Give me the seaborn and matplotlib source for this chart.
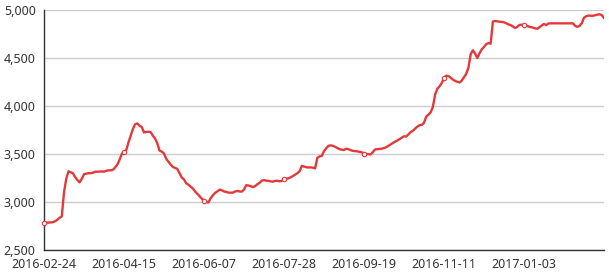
import matplotlib
matplotlib.use("Agg")
import matplotlib.pyplot as plt
import matplotlib.ticker as mticker
import numpy as np
import pandas as pd
import seaborn as sns

# Daily values (trading-day index 0..252)
values = [
    2785, 2785, 2785, 2787, 2790, 2800, 2815, 2835, 2850, 3100,
    3240, 3320, 3310, 3300, 3260, 3230, 3205, 3240, 3290, 3295,
    3300, 3300, 3305, 3315, 3316, 3316, 3318, 3316, 3325, 3330,
    3330, 3335, 3360, 3390, 3440, 3500, 3525, 3540, 3620, 3690,
    3760, 3810, 3818, 3795, 3780, 3725, 3730, 3732, 3728, 3690,
    3660, 3610, 3535, 3525, 3505, 3450, 3420, 3390, 3365, 3355,
    3345, 3300, 3255, 3235, 3195, 3180, 3160, 3140, 3110, 3085,
    3060, 3035, 3012, 3000, 2995, 3040, 3070, 3095, 3110, 3128,
    3122, 3110, 3105, 3098, 3097, 3098, 3110, 3115, 3110, 3108,
    3130, 3175, 3172, 3165, 3155, 3165, 3185, 3200, 3222, 3228,
    3222, 3220, 3215, 3212, 3220, 3222, 3215, 3220, 3238, 3242,
    3247, 3257, 3270, 3285, 3300, 3320, 3375, 3370, 3362, 3360,
    3361, 3358, 3350, 3460, 3475, 3480, 3530, 3560, 3585, 3590,
    3585, 3575, 3562, 3550, 3545, 3542, 3555, 3550, 3540, 3532,
    3530, 3528, 3522, 3518, 3505, 3500, 3498, 3496, 3520, 3548,
    3550, 3552, 3555, 3562, 3570, 3585, 3600, 3615, 3628, 3642,
    3655, 3670, 3685, 3682, 3705, 3728, 3742, 3765, 3785, 3800,
    3803, 3825, 3890, 3910, 3935, 3990, 4120, 4180, 4205, 4240,
    4290, 4315, 4312, 4295, 4275, 4262, 4252, 4245, 4265, 4300,
    4335, 4400, 4540, 4580, 4545, 4500, 4550, 4590, 4615, 4645,
    4655, 4650, 4880, 4885, 4882, 4878, 4875, 4872, 4862, 4850,
    4842, 4828, 4812, 4825, 4845, 4846, 4844, 4840, 4828, 4822,
    4817, 4808, 4805, 4822, 4840, 4855, 4842, 4860, 4861, 4861,
    4861, 4861, 4861, 4861, 4861, 4861, 4861, 4861, 4861, 4835,
    4825, 4835, 4862, 4920, 4935, 4942, 4940, 4940, 4945, 4952,
    4955, 4948, 4915,
]
tick_labels = ["2016-02-24", "2016-04-15", "2016-06-07", "2016-07-28",
               "2016-09-19", "2016-11-11", "2017-01-03"]
label_interval = 36
y_ticks = [2500, 3000, 3500, 4000, 4500, 5000]

df = pd.DataFrame({"idx": np.arange(len(values)), "value": values})

sns.set_style("white")
plt.rcParams["font.family"] = ["Noto Sans", "DejaVu Sans"]

W, H = 609, 274
fig = plt.figure(figsize=(W / 100, H / 100), dpi=100)
ax = fig.add_axes([44 / W, 1 - 250 / H, (604 - 44) / W, (250 - 10) / H])

line_color = "#e3393b"
sns.lineplot(data=df, x="idx", y="value", ax=ax, color=line_color,
             linewidth=1.7, zorder=3)
mk = df.iloc[::label_interval]
mk = mk[mk["idx"] <= label_interval * (len(tick_labels) - 1)]
ax.scatter(mk["idx"], mk["value"], s=10, facecolor="white",
           edgecolor=line_color, linewidth=0.8, zorder=5, clip_on=False)

ax.set_xlim(0, len(values) - 1)
ax.set_ylim(2500, 5000)
ax.set_yticks(y_ticks)
ax.yaxis.set_major_formatter(mticker.FuncFormatter(lambda v, p: f"{int(v):,}"))
ax.set_xticks([i * label_interval for i in range(len(tick_labels))])
ax.set_xticklabels(tick_labels)

ax.grid(axis="y", color="#cccccc", linewidth=1)
ax.grid(axis="x", visible=False)
for s in ["top", "right"]:
    ax.spines[s].set_visible(False)
for s in ["left", "bottom"]:
    ax.spines[s].set_color("#333333")
    ax.spines[s].set_linewidth(1)
    ax.spines[s].set_zorder(2.5)
ax.tick_params(axis="both", direction="out", length=4, width=1,
               color="#333333", labelcolor="#333333", labelsize=9, pad=2)
ax.set_xlabel("")
ax.set_ylabel("")

fig.savefig("out.png", dpi=100)
